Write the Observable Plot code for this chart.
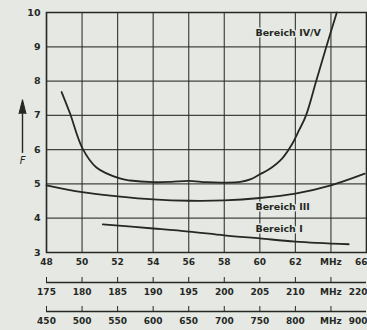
<!DOCTYPE html>
<html>
<head>
<meta charset="utf-8">
<script src="https://cdn.jsdelivr.net/npm/d3@7"></script>
<script src="https://cdn.jsdelivr.net/npm/@observablehq/plot@0.6"></script>
<style>
  html, body { margin: 0; padding: 0; background: #e5e8e3; }
  #chart svg { display: block; background: #e5e8e3; }
</style>
</head>
<body>
<div id="chart"></div>
<script>
// Grid / tick positions (Bereich I frequency scale, MHz)
const mhzTicks = [48, 50, 52, 54, 56, 58, 60, 62, 64, 66];
const fTicks = [3, 4, 5, 6, 7, 8, 9, 10];

// Tick labels of the three stacked frequency scales
const labelsBandI = ["48", "50", "52", "54", "56", "58", "60", "62", "MHz", "66"];
const labelsBandIII = ["175", "180", "185", "190", "195", "200", "205", "210", "MHz", "220"];
const labelsBandIVV = ["450", "500", "550", "600", "650", "700", "750", "800", "MHz", "900"];

// Noise figure F curves (x on the 48..66 grid)
const curveIVV_x = [48.85, 49.32, 50.03, 50.81, 52.12, 52.7, 54.0, 55.0, 56.0, 57.0, 58.0, 58.9, 59.5, 60.0, 60.5, 61.25, 61.8, 62.2, 62.6, 63.17, 63.74, 64.33];
const curveIVV_F = [7.68, 7.06, 6.03, 5.48, 5.16, 5.10, 5.05, 5.06, 5.09, 5.05, 5.04, 5.06, 5.14, 5.28, 5.42, 5.74, 6.15, 6.56, 7.0, 8.0, 9.0, 10.0];

const curveIII_x = [48, 50, 52, 54, 56, 58, 60, 62, 64, 65.9];
const curveIII_F = [4.96, 4.76, 4.64, 4.55, 4.51, 4.52, 4.59, 4.72, 4.96, 5.3];

const curveI_x = [51.17, 54, 56, 58, 60, 62, 65.0];
const curveI_F = [3.82, 3.70, 3.61, 3.50, 3.41, 3.32, 3.24];

// Curve labels
const labelText = ["Bereich IV/V", "Bereich III", "Bereich I"];
const labelX = [59.75, 59.75, 59.75];
const labelF = [9.39, 4.34, 3.70];

// F-axis arrow annotation
const arrowX = [48];
const arrowF1 = [5.89];
const arrowF2 = [7.05];
const arrowLabel = ["F"];
const arrowLabelF = [5.68];

const ink = "#252825";
const bg = "#e5e8e3";

const toPts = (xs, ys) => xs.map((x, i) => ({x, y: ys[i]}));
const labels = labelText.map((t, i) => ({t, x: labelX[i], y: labelF[i]}));
const arrow = arrowX.map((x, i) => ({x, y1: arrowF1[i], y2: arrowF2[i]}));

const fmt = arr => d => arr[mhzTicks.indexOf(d)];
const tickFont = {fontSize: 9, fontWeight: "bold", fill: ink};
const inner = mhzTicks.slice(0, -1);
const last = mhzTicks.slice(-1);

// one stacked frequency scale: inner labels centred, last label kept inside the edge
const scaleAxis = (labelsArr, dy, tickSize) => [
  Plot.axisX(inner, {anchor: "bottom", dy, tickSize, tickPadding: 6, label: null, tickFormat: fmt(labelsArr), stroke: ink, ...tickFont}),
  Plot.axisX(last, {anchor: "bottom", dy, tickSize, tickPadding: 6, label: null, tickFormat: fmt(labelsArr), stroke: ink, textAnchor: "end", dx: 1, ...tickFont})
];

const chart = Plot.plot({
  width: 367,
  height: 330,
  marginLeft: 46,
  marginRight: 1,
  marginTop: 12,
  marginBottom: 78,
  style: {background: bg, fontFamily: "DejaVu Sans, sans-serif", color: ink},
  x: {domain: [48, 66]},
  y: {domain: [3, 10]},
  marks: [
    Plot.gridX(mhzTicks, {stroke: ink, strokeOpacity: 0.85, strokeWidth: 1.2}),
    Plot.gridY(fTicks, {stroke: ink, strokeOpacity: 0.85, strokeWidth: 1.2}),
    Plot.frame({stroke: ink, strokeWidth: 1.5}),
    Plot.axisY(fTicks, {tickSize: 0, tickPadding: 6, label: null, fontSize: 9.5, fontWeight: "bold", fill: ink}),
    // Bereich I scale
    ...scaleAxis(labelsBandI, 0, 0),
    // Bereich III scale
    Plot.ruleY([3], {dy: 30, stroke: ink, strokeWidth: 1.5}),
    ...scaleAxis(labelsBandIII, 25, 5),
    // Bereich IV/V scale
    Plot.ruleY([3], {dy: 59, stroke: ink, strokeWidth: 1.5}),
    ...scaleAxis(labelsBandIVV, 54, 5),
    // curves
    Plot.line(toPts(curveIVV_x, curveIVV_F), {x: "x", y: "y", curve: "catmull-rom", stroke: ink, strokeWidth: 1.8}),
    Plot.line(toPts(curveIII_x, curveIII_F), {x: "x", y: "y", curve: "catmull-rom", stroke: ink, strokeWidth: 1.8}),
    Plot.line(toPts(curveI_x, curveI_F), {x: "x", y: "y", curve: "catmull-rom", stroke: ink, strokeWidth: 1.8}),
    // labels
    Plot.text(labels, {x: "x", y: "y", text: "t", textAnchor: "start", fontSize: 9.5, fontWeight: "bold", fill: ink, stroke: bg, strokeWidth: 3}),
    // F arrow
    Plot.ruleX(arrow, {x: "x", y1: "y1", y2: "y2", dx: -24, stroke: ink, strokeWidth: 1.4}),
    Plot.vector(arrow, {x: "x", y: "y2", dx: -24, length: 14, r: 3.5, shape: "spike", anchor: "start", rotate: 0, fill: ink, stroke: ink, strokeWidth: 1}),
    Plot.text(arrowLabel, {x: () => arrowX[0], y: () => arrowLabelF[0], text: d => d, dx: -24, fontSize: 10, fontStyle: "italic", fill: ink})
  ]
});
document.getElementById("chart").append(chart);
</script>
</body>
</html>
